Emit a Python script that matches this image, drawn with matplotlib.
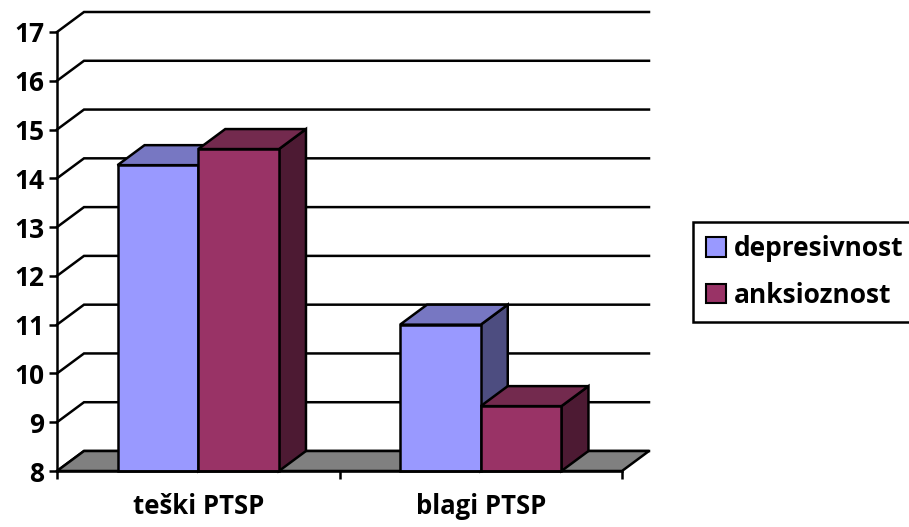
import matplotlib
matplotlib.use('Agg')
import matplotlib.pyplot as plt
from matplotlib.patches import Polygon, Patch

# data
categories = ['teški PTSP', 'blagi PTSP']
series = ['depresivnost', 'anksioznost']
depresivnost = [14.27, 11.0]
anksioznost = [14.6, 9.33]
y_ticks = list(range(8, 18))

front = ['#9999FF', '#993366']
top = ['#7777C2', '#732A4E']
side = ['#4D4D80', '#4D1A33']

plt.rcParams['font.family'] = ['Open Sans', 'DejaVu Sans']
plt.rcParams['font.weight'] = 'bold'

W, H = 909, 527
fig = plt.figure(figsize=(W / 100, H / 100), dpi=100)

# axes box in pixels: front-left axis at x=57, bottom at y=471, back wall up to x=651, y=11
px_left, px_right, px_bottom, px_top = 57, 651, 471, 11
ax = fig.add_axes([px_left / W, 1 - px_bottom / H,
                   (px_right - px_left) / W, (px_bottom - px_top) / H])

ymin, ymax = 8, 17
x_per_unit = (622 - 57) / 2.0       # px per category
y_per_unit = (471 - 32) / 9.0       # px per value unit
dx = 27 / x_per_unit                 # depth offset in data units
dy = 20 / y_per_unit

ax.set_xlim(-0.5, -0.5 + (px_right - px_left) / x_per_unit)
ax.set_ylim(ymin, ymin + (px_bottom - px_top) / y_per_unit)

lw = 1.8

# back wall gridlines + side-wall diagonals
for v in y_ticks:
    ax.plot([-0.5, -0.5 + dx, 1.5 + dx], [v, v + dy, v + dy],
            color='black', lw=lw, zorder=1, clip_on=False, solid_joinstyle='miter')

# floor
floor = Polygon([(-0.5, ymin), (1.5, ymin), (1.5 + dx, ymin + dy), (-0.5 + dx, ymin + dy)],
                closed=True, facecolor='#808080', edgecolor='black', lw=lw, zorder=2,
                clip_on=False)
ax.add_patch(floor)

# 3D bars
n = len(series)
width = 1.0 / (n + 1.5)   # gap width 150%
z = 3
for i, cat in enumerate(categories):
    for j, vals in enumerate([depresivnost, anksioznost]):
        v = vals[i]
        xc = i - width * n / 2 + width * (j + 0.5)
        x0, x1 = xc - width / 2, xc + width / 2
        ax.add_patch(Polygon([(x1, ymin), (x1, v), (x1 + dx, v + dy), (x1 + dx, ymin + dy)],
                             closed=True, facecolor=side[j], edgecolor='black', lw=lw,
                             zorder=z, clip_on=False, joinstyle='miter'))
        ax.add_patch(Polygon([(x0, v), (x1, v), (x1 + dx, v + dy), (x0 + dx, v + dy)],
                             closed=True, facecolor=top[j], edgecolor='black', lw=lw,
                             zorder=z, clip_on=False, joinstyle='miter'))
        ax.bar(xc, v - ymin, bottom=ymin, width=width, color=front[j],
               edgecolor='black', lw=lw, zorder=z + 0.5, clip_on=False)
        z += 1

# axes lines and ticks
for s in ['top', 'right']:
    ax.spines[s].set_visible(False)
ax.spines['left'].set_bounds(ymin, ymax)
ax.spines['bottom'].set_bounds(-0.5, 1.5)
ax.spines['left'].set_linewidth(lw)
ax.spines['bottom'].set_linewidth(lw)
ax.spines['left'].set_zorder(20)
ax.spines['bottom'].set_zorder(20)

ax.set_yticks(y_ticks)
ax.set_yticklabels([str(t) for t in y_ticks], fontsize=19, fontweight='bold')
ax.tick_params(axis='y', length=6, width=lw, pad=3)

ax.set_xticks([-0.5, 0.5, 1.5])
ax.set_xticklabels([])
ax.set_xticks([0, 1], minor=True)
ax.set_xticklabels(categories, minor=True, fontsize=18.5, fontweight='bold')
ax.tick_params(axis='x', which='major', length=6, width=lw)
ax.tick_params(axis='x', which='minor', length=0, pad=16)

handles = [Patch(facecolor=front[j], edgecolor='black', lw=1.5) for j in range(n)]
leg = fig.legend(handles, series, loc='upper left',
                 bbox_to_anchor=(693 / W, 1 - 222 / H), prop={'size': 19, 'weight': 'bold'},
                 frameon=True, fancybox=False, edgecolor='black', framealpha=1,
                 handlelength=0.75, handleheight=0.75, handletextpad=0.3,
                 labelspacing=0.75, borderpad=0.5, borderaxespad=0)
leg.get_frame().set_linewidth(1.8)

fig.savefig('out.png', dpi=100)
